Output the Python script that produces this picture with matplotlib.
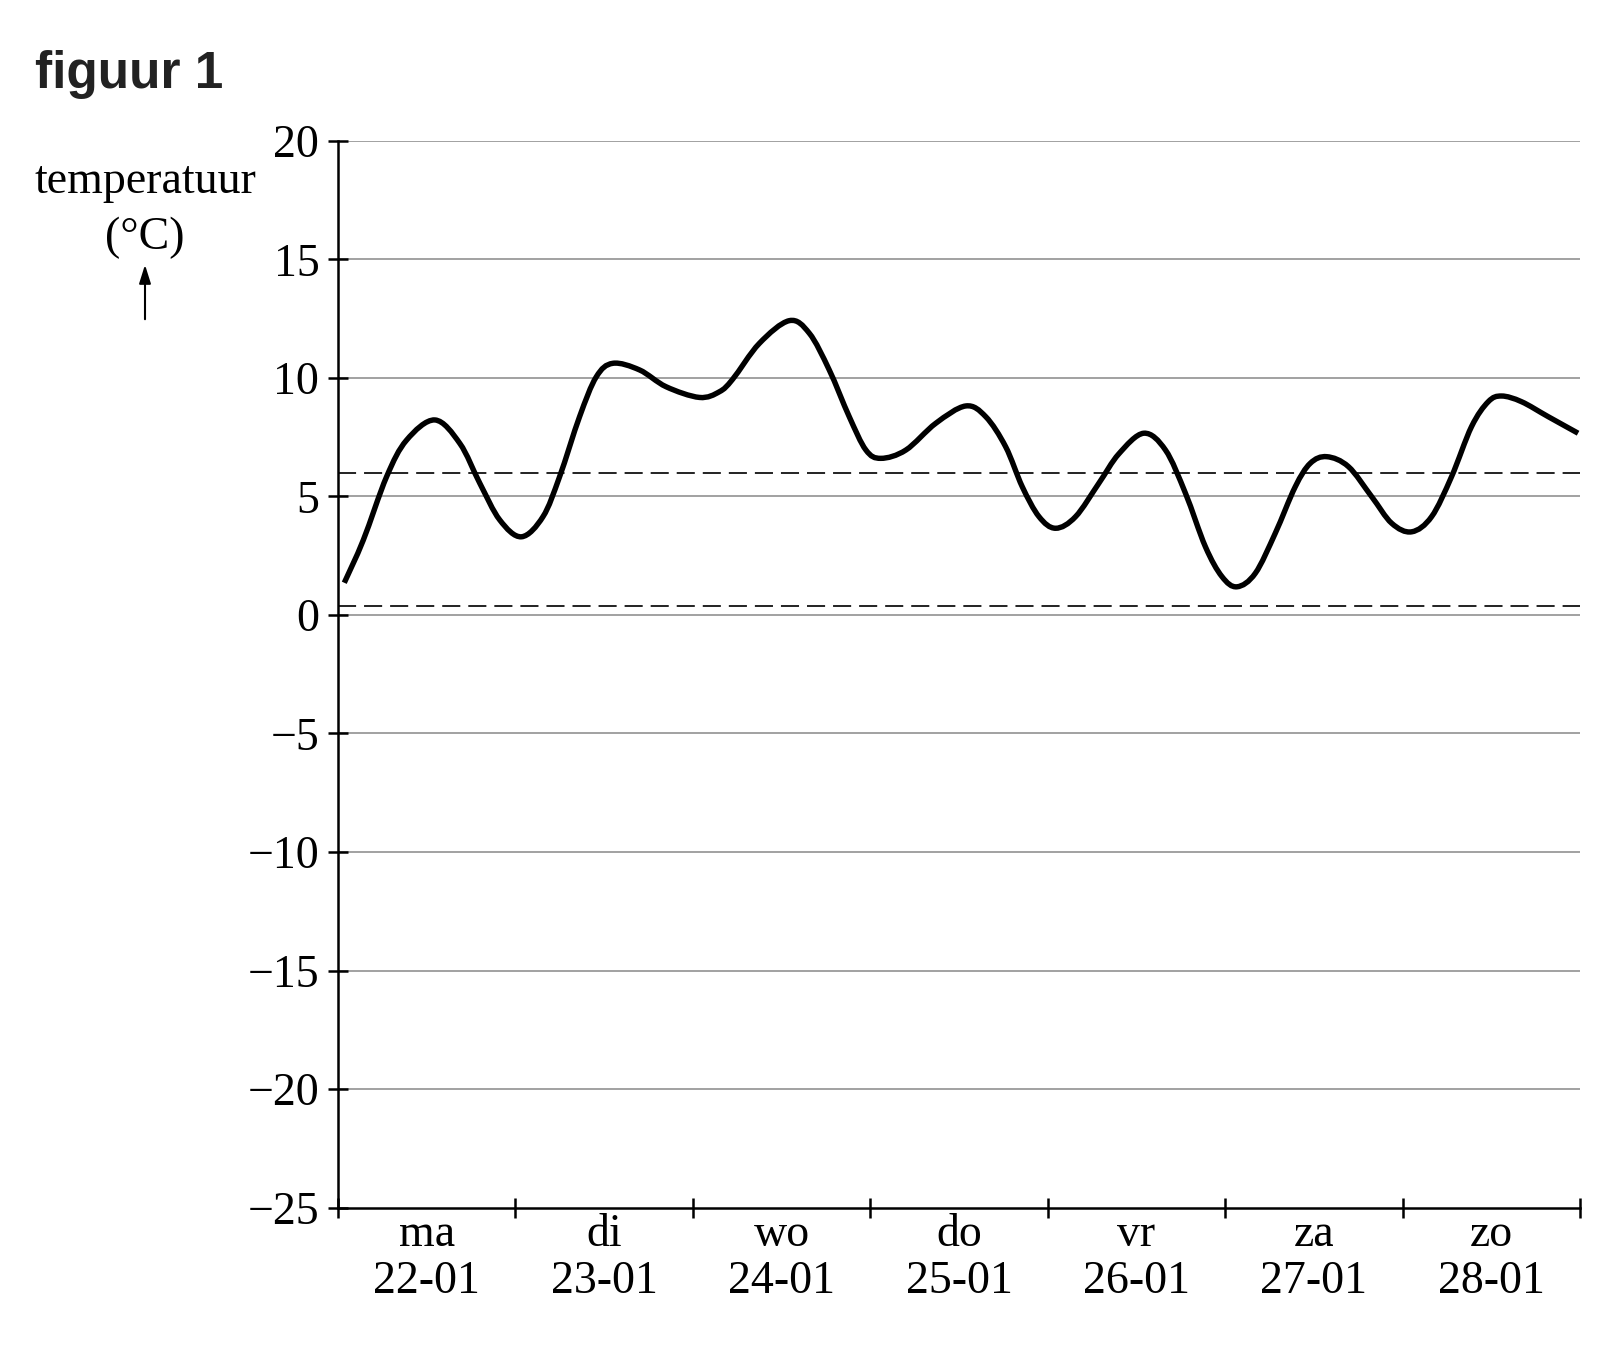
import matplotlib
matplotlib.use("Agg")
import matplotlib.pyplot as plt
from matplotlib.path import Path
from matplotlib.patches import PathPatch, FancyArrowPatch
import numpy as np

# time in hours since Monday 22-01 00:00
hours = [0.85, 3.42, 6.58, 9.28, 13.10, 16.48, 19.18, 21.88, 24.81, 27.73,
         29.98, 32.68, 34.94, 37.18, 40.79, 44.39, 48.89, 51.59, 53.39, 56.99,
         61.05, 63.75, 66.45, 69.15, 71.41, 73.43, 76.81, 80.86, 84.91, 87.61,
         90.31, 92.56, 94.82, 97.07, 99.77, 102.92, 105.62, 109.0, 111.93, 114.63,
         117.33, 119.57, 121.60, 124.08, 126.78, 129.48, 131.51, 133.75, 136.68, 139.83,
         142.53, 145.23, 147.93, 150.63, 153.33, 155.59, 157.39, 160.09, 163.69, 167.74]
temps = [1.36, 3.16, 5.84, 7.38, 8.23, 7.24, 5.56, 4.01, 3.30, 4.15,
         5.84, 8.37, 10.05, 10.62, 10.34, 9.63, 9.18, 9.42, 9.95, 11.46,
         12.42, 11.89, 10.34, 8.37, 6.96, 6.61, 6.96, 8.09, 8.82, 8.37,
         7.10, 5.41, 4.15, 3.66, 4.15, 5.56, 6.80, 7.67, 6.96, 5.14,
         2.88, 1.62, 1.19, 1.76, 3.45, 5.41, 6.40, 6.68, 6.26, 4.99,
         3.87, 3.51, 4.15, 5.84, 7.95, 9.00, 9.24, 9.00, 8.37, 7.67]

dashed_levels = [6.0, 0.4]
y_ticks = [-25, -20, -15, -10, -5, 0, 5, 10, 15, 20]
day_names = ["ma", "di", "wo", "do", "vr", "za", "zo"]
day_dates = ["22-01", "23-01", "24-01", "25-01", "26-01", "27-01", "28-01"]

serif = ["Liberation Serif", "DejaVu Serif"]

fig = plt.figure(figsize=(16.14, 13.67), dpi=100)
ax = fig.add_axes([338/1614, 159.5/1367, (1580-338)/1614, (1207.5-141)/1367])

ax.set_xlim(0, 168)
ax.set_ylim(-25, 20)

for yv in y_ticks[1:]:
    ax.axhline(yv, color="#9a9a9a", lw=1.3, zorder=1)
for lv in dashed_levels:
    ax.axhline(lv, color="#222222", lw=1.4, dashes=(9.3, 4.1), zorder=2)

# smooth curve through the read points (Catmull-Rom as cubic Bezier segments)
P = np.column_stack([hours, temps])
verts = [tuple(P[0])]
codes = [Path.MOVETO]
n = len(P)
for i in range(n - 1):
    p0 = P[i - 1] if i > 0 else P[i]
    p1 = P[i]
    p2 = P[i + 1]
    p3 = P[i + 2] if i + 2 < n else P[i + 1]
    c1 = p1 + (p2 - p0) / 6.0
    c2 = p2 - (p3 - p1) / 6.0
    verts += [tuple(c1), tuple(c2), tuple(p2)]
    codes += [Path.CURVE4] * 3
ax.add_patch(PathPatch(Path(verts, codes), facecolor="none", edgecolor="black",
                       lw=3.9, capstyle="butt", joinstyle="round", zorder=3))

for s in ["top", "right"]:
    ax.spines[s].set_visible(False)
for s in ["left", "bottom"]:
    ax.spines[s].set_linewidth(1.8)
    ax.spines[s].set_color("black")

ax.set_yticks(y_ticks)
ax.set_yticklabels([("\u2212" + str(abs(v))) if v < 0 else str(v) for v in y_ticks],
                   fontfamily=serif, fontsize=33)
ax.tick_params(axis="y", direction="inout", length=14, width=1.8, pad=6.5)

ax.set_xticks([24 * i for i in range(8)])
ax.set_xticklabels([])
ax.set_xticks([24 * i + 12 for i in range(7)], minor=True)
ax.set_xticklabels([f"{n}\n{d}" for n, d in zip(day_names, day_dates)], minor=True,
                   fontfamily=serif, fontsize=33, linespacing=1.13)
ax.tick_params(axis="x", which="major", direction="inout", length=14, width=1.8)
ax.tick_params(axis="x", which="minor", length=0, pad=4.5)

fig.text(35/1614, 1 - 88/1367, "figuur 1", fontfamily=["Liberation Sans", "DejaVu Sans"],
         fontweight="bold", fontsize=37, color="#222222", ha="left", va="baseline")
fig.text(145/1614, 1 - 193/1367, "temperatuur", fontfamily=serif, fontsize=33,
         ha="center", va="baseline")
fig.text(145/1614, 1 - 249/1367, "(°C)", fontfamily=serif, fontsize=33,
         ha="center", va="baseline")
fig.add_artist(FancyArrowPatch(
    (145/1614, 1 - 322/1367), (145/1614, 1 - 262/1367),
    transform=fig.transFigure, arrowstyle="-|>,head_length=7,head_width=2.2",
    color="black", lw=1.5, mutation_scale=1.6))

fig.savefig("out.png", dpi=100)
